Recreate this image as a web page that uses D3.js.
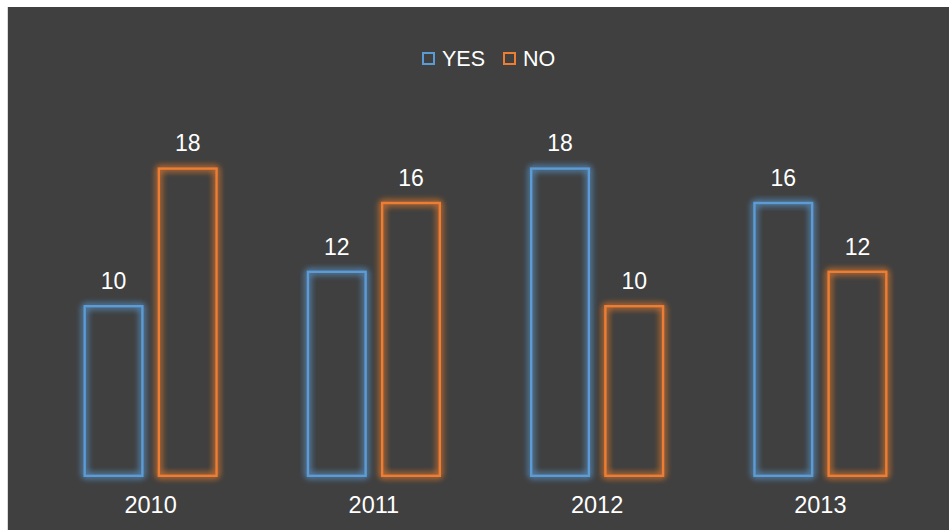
<!DOCTYPE html>
<html>
<head>
<meta charset="utf-8">
<script src="https://cdn.jsdelivr.net/npm/d3@7/dist/d3.min.js"></script>
<style>
  html, body { margin: 0; padding: 0; background: #fff; }
  text { font-family: "Liberation Sans", Arial, sans-serif; fill: #ffffff; }
</style>
</head>
<body>
<div id="chart"></div>
<script>
(function () {
    // data
    const years = ["2010", "2011", "2012", "2013"];
    const seriesNames = ["YES", "NO"];
    const yesValues = [10, 12, 18, 16];
    const noValues = [18, 16, 10, 12];

    const colors = { YES: "#5b9bd5", NO: "#ed7d31" };

    const W = 949, H = 530;
    const svg = d3.select("#chart").append("svg")
        .attr("width", W)
        .attr("height", H);

    // background / frame
    svg.append("rect").attr("x", 7).attr("y", 7).attr("width", W - 7).attr("height", H - 7).attr("fill", "#d9d9d9");
    svg.append("rect").attr("x", 8).attr("y", 7).attr("width", W - 8).attr("height", H - 7).attr("fill", "#404040");

    // glow filter
    const defs = svg.append("defs");
    const f = defs.append("filter").attr("id", "glow")
        .attr("x", "-30%").attr("y", "-30%").attr("width", "160%").attr("height", "160%");
    f.append("feGaussianBlur").attr("in", "SourceGraphic").attr("stdDeviation", 3.5).attr("result", "blur");
    const merge = f.append("feMerge");
    merge.append("feMergeNode").attr("in", "blur");
    merge.append("feMergeNode").attr("in", "blur");
    merge.append("feMergeNode").attr("in", "SourceGraphic");

    // scales
    const x0 = d3.scaleBand().domain(years).range([39, 932]);
    const x1 = d3.scaleBand().domain(seriesNames)
        .range([0, x0.bandwidth()])
        .paddingInner(0.19)
        .paddingOuter(0.6);
    const y = d3.scaleLinear().domain([0, 20]).range([477, 133]);

    const rows = years.map((yr, i) => ({ year: yr, values: [
        { key: "YES", value: yesValues[i] },
        { key: "NO", value: noValues[i] }
    ] }));

    const groups = svg.selectAll(".grp")
        .data(rows)
        .enter().append("g")
        .attr("class", "grp")
        .attr("transform", d => `translate(${x0(d.year)},0)`);

    groups.selectAll("rect")
        .data(d => d.values)
        .enter().append("rect")
        .attr("x", d => x1(d.key) + 1.2)
        .attr("y", d => y(d.value) + 1.2)
        .attr("width", x1.bandwidth() - 2.4)
        .attr("height", d => y(0) - y(d.value) - 2.4)
        .attr("fill", "none")
        .attr("stroke", d => colors[d.key])
        .attr("stroke-width", 2.4)
        .attr("filter", "url(#glow)");

    groups.selectAll(".lbl")
        .data(d => d.values)
        .enter().append("text")
        .attr("class", "lbl")
        .attr("x", d => x1(d.key) + x1.bandwidth() / 2)
        .attr("y", d => y(d.value) - 16)
        .attr("text-anchor", "middle")
        .style("font-size", "23px")
        .text(d => d.value);

    // x axis labels
    svg.append("g")
        .attr("transform", "translate(0,513)")
        .selectAll("text")
        .data(years)
        .enter().append("text")
        .attr("x", d => x0(d) + x0.bandwidth() / 2)
        .attr("text-anchor", "middle")
        .style("font-size", "23.5px")
        .text(d => d);

    // legend
    const legendPos = [422, 503];
    const legend = svg.append("g").attr("class", "legend");
    const items = legend.selectAll("g")
        .data(seriesNames)
        .enter().append("g")
        .attr("transform", (d, i) => `translate(${legendPos[i]},52)`);
    items.append("rect")
        .attr("x", 1).attr("y", 1)
        .attr("width", 11).attr("height", 11)
        .attr("fill", "none")
        .attr("stroke", d => colors[d])
        .attr("stroke-width", 2);
    items.append("text")
        .attr("x", 20)
        .attr("y", 13.5)
        .style("font-size", "21.5px")
        .text(d => d);
})();
</script>
</body>
</html>
